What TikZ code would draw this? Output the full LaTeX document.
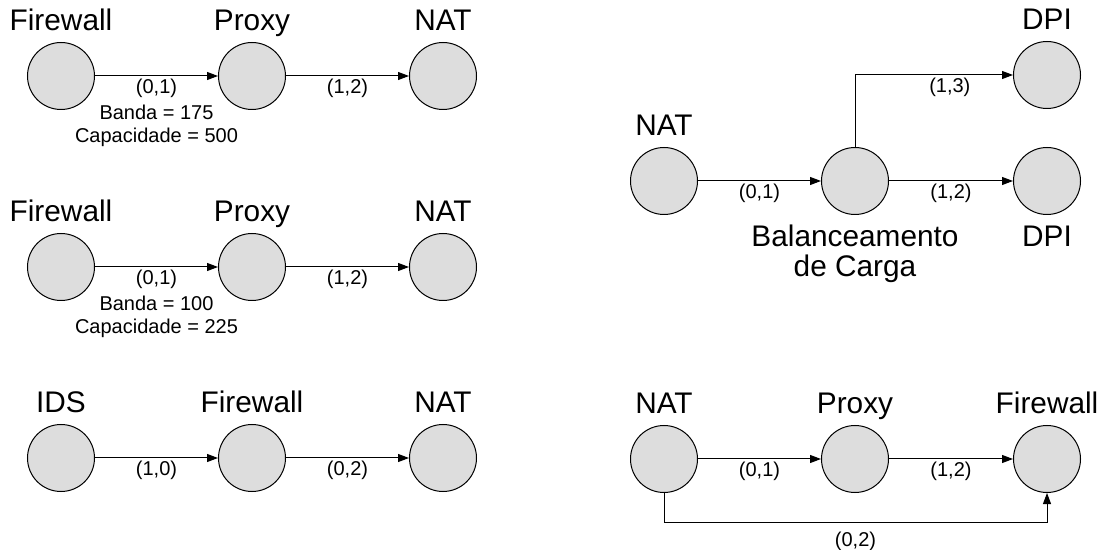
\documentclass[tikz,border=0pt]{standalone}
\usepackage{fontspec}
\setmainfont{Liberation Sans}
\usepackage{tikz}
\usetikzlibrary{arrows.meta}
\definecolor{vnfgray}{RGB}{221,221,221}
\tikzstyle{vnf}=[circle, draw=black, fill=vnfgray, line width=0.5pt,
    minimum size=33.5pt, inner sep=0pt]
\tikzstyle{fname}=[font=\fontsize{14.9}{15}\selectfont, anchor=base, inner sep=0pt]
\tikzstyle{elabel}=[font=\fontsize{10}{11}\selectfont, anchor=base, inner sep=0pt]
\tikzstyle{flow}=[->, line width=0.5pt]

\begin{document}
\begin{tikzpicture}[x=0.5pt, y=-0.5pt, >={Triangle[length=5.5pt,width=4pt]}]
  \useasboundingbox (0,0) rectangle (1103,550);
  % cadeia 1
  \node[vnf] at (61,76) (fwA) {};
  \node[vnf] at (252,76) (pxA) {};
  \node[vnf] at (443,76) (natA) {};
  \path (fwA.north) +(0,-11) node[fname] (tfwA) {Firewall};
  \path (pxA.north) +(0,-11) node[fname] (tpxA) {Proxy};
  \path (natA.north) +(0,-11) node[fname] (tnatA) {NAT};
  \draw[flow] (fwA) -- node[elabel, yshift=-8.6pt] (lfwA) {(0,1)} (pxA);
  \draw[flow] (pxA) -- node[elabel, yshift=-8.6pt] (lpxA) {(1,2)} (natA);
  \path (lfwA.base) +(0,26) node[elabel] (bwA) {Banda = 175};
  \path (bwA.base) +(0,23) node[elabel] (capA) {Capacidade = 500};

  % cadeia 2
  \node[vnf] at (61,267) (fwB) {};
  \node[vnf] at (252,267) (pxB) {};
  \node[vnf] at (443,267) (natB) {};
  \path (fwB.north) +(0,-11) node[fname] (tfwB) {Firewall};
  \path (pxB.north) +(0,-11) node[fname] (tpxB) {Proxy};
  \path (natB.north) +(0,-11) node[fname] (tnatB) {NAT};
  \draw[flow] (fwB) -- node[elabel, yshift=-8.6pt] (lfwB) {(0,1)} (pxB);
  \draw[flow] (pxB) -- node[elabel, yshift=-8.6pt] (lpxB) {(1,2)} (natB);
  \path (lfwB.base) +(0,26) node[elabel] (bwB) {Banda = 100};
  \path (bwB.base) +(0,23) node[elabel] (capB) {Capacidade = 225};

  % cadeia 3
  \node[vnf] at (61,458) (idsC) {};
  \node[vnf] at (252,458) (fwC) {};
  \node[vnf] at (443,458) (natC) {};
  \path (idsC.north) +(0,-11) node[fname] (tidsC) {IDS};
  \path (fwC.north) +(0,-11) node[fname] (tfwC) {Firewall};
  \path (natC.north) +(0,-11) node[fname] (tnatC) {NAT};
  \draw[flow] (idsC) -- node[elabel, yshift=-8.6pt] (lidsC) {(1,0)} (fwC);
  \draw[flow] (fwC) -- node[elabel, yshift=-8.6pt] (lfwC) {(0,2)} (natC);

  % balanceamento de carga
  \node[vnf] at (664,181) (natD) {};
  \node[vnf] at (855,181) (lbD) {};
  \node[vnf] at (1047,75) (dpiD) {};
  \node[vnf] at (1047,181) (dpiE) {};
  \path (natD.north) +(0,-11) node[fname] (tnatD) {NAT};
  \path (dpiD.north) +(0,-11) node[fname] (tdpiD) {DPI};
  % base = linha de baixo
  \path (lbD.south) +(0,62) node[fname, align=center] (tlbD) {Balanceamento\\de Carga};
  \path (dpiE.south) +(0,32) node[fname] (tdpiE) {DPI};
  \draw[flow] (natD) -- node[elabel, yshift=-8.6pt] (lnatD) {(0,1)} (lbD);
  \draw[flow] (lbD) -- node[elabel, yshift=-8.6pt] (llbE) {(1,2)} (dpiE);
  \draw[flow] (lbD) |- node[elabel, pos=0.8, yshift=-8.6pt] (llbD) {(1,3)} (dpiD);

  % cadeia 5
  \node[vnf] at (664,459) (natF) {};
  \node[vnf] at (855,459) (pxF) {};
  \node[vnf] at (1047,459) (fwF) {};
  \path (natF.north) +(0,-11) node[fname] (tnatF) {NAT};
  \path (pxF.north) +(0,-11) node[fname] (tpxF) {Proxy};
  \path (fwF.north) +(0,-11) node[fname] (tfwF) {Firewall};
  \draw[flow] (natF) -- node[elabel, yshift=-8.6pt] (lnatF) {(0,1)} (pxF);
  \draw[flow] (pxF) -- node[elabel, yshift=-8.6pt] (lpxF) {(1,2)} (fwF);
  \coordinate (turnF) at (1047,522);
  \draw[flow] (natF) |- node[elabel, pos=0.75, yshift=-12pt] (lnatG) {(0,2)} (turnF) -- (fwF);
\end{tikzpicture}
\end{document}
